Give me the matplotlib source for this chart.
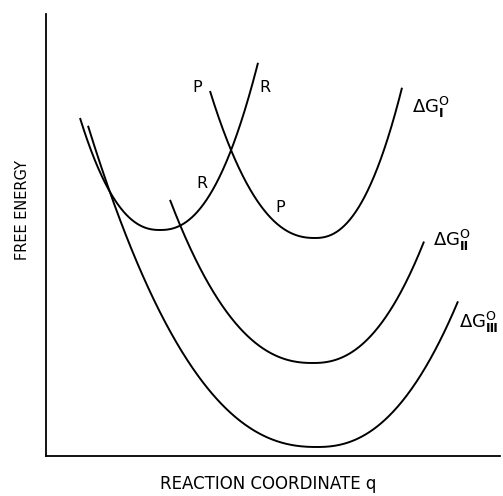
import numpy as np
import matplotlib
matplotlib.use('Agg')
import matplotlib.pyplot as plt

#---------------------------Chart data---------------------------#
#Potential wells (arbitrary units): reactant R and three product curves
curve_names = ['R', 'P_I', 'P_II', 'P_III']
q_min = [114, 269, 267, 271]          #position of each minimum
g_min = [226, 218, 93, 9]             #free energy at each minimum
k_left = [0.0047, 0.0033, 0.0018, 0.0012]    #curvature of the left branch
k_right = [0.0044, 0.0052, 0.0024, 0.00166]  #curvature of the right branch
q_start = [34, 164, 124, 42]          #where each drawn curve begins
q_end = [212, 356, 378, 412]          #where each drawn curve ends
well_power = 2.3

#Curve letters near the crossing
letter_text = ['P', 'R', 'R', 'P']
letter_q = [151, 219, 156, 234]
letter_g = [369, 368, 273, 249]

#Driving force labels at the right end of each product curve
dg_labels = [r'$\Delta\mathsf{G}^{\mathsf{O}}_{\mathbf{Ⅰ}}$',
             r'$\Delta\mathsf{G}^{\mathsf{O}}_{\mathbf{Ⅱ}}$',
             r'$\Delta\mathsf{G}^{\mathsf{O}}_{\mathbf{Ⅲ}}$']
dg_q = [366, 387, 413]
dg_g = [343, 210, 128]
#----------------------------------------------------------------#

plt.rcParams['mathtext.fontset'] = 'dejavusans'
plt.rcParams['font.family'] = ['DejaVu Sans']

fig = plt.figure(figsize=(5.03, 4.96), dpi=100)
ax = fig.add_axes([46/503, 40/496, 454/503, 442/496])

for i in range(len(curve_names)):
    q = np.linspace(q_start[i], q_end[i], 400)
    dq = q - q_min[i]
    k = np.where(dq < 0, k_left[i], k_right[i])
    g = g_min[i] + k*np.abs(dq)**well_power
    ax.plot(q, g, color='black', lw=1.4, solid_capstyle='butt')

for t, x, y in zip(letter_text, letter_q, letter_g):
    ax.text(x, y, t, fontsize=11.5, ha='center', va='center')

for t, x, y in zip(dg_labels, dg_q, dg_g):
    ax.text(x, y, t, fontsize=13, ha='left', va='baseline', clip_on=False)

ax.set_xlim(0, 454)
ax.set_ylim(0, 442)
ax.set_xticks([])
ax.set_yticks([])
ax.spines['top'].set_visible(False)
ax.spines['right'].set_visible(False)
ax.spines['left'].set_linewidth(1.3)
ax.spines['bottom'].set_linewidth(1.3)

fig.text(23/503, 1-210/496, 'FREE ENERGY', rotation=90, fontsize=10.5,
         ha='center', va='center')
fig.text(268/503, 1-484/496, 'REACTION COORDINATE q', fontsize=12,
         ha='center', va='center')

fig.savefig('out.png', dpi=100)
